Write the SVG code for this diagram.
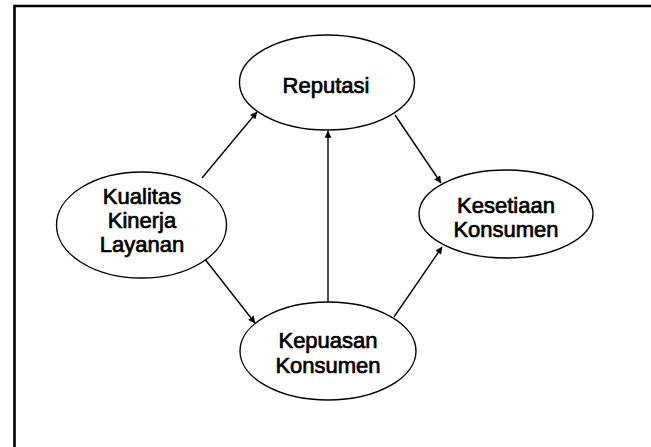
<svg xmlns="http://www.w3.org/2000/svg" width="651" height="447" viewBox="0 0 651 447">
  <style>
    .node ellipse { fill: #ffffff; stroke: #000000; stroke-width: 1.4; }
    .node text { font-family: "Liberation Sans", Arial, sans-serif; font-size: 22px; fill: #000000; text-anchor: middle; stroke: #000000; stroke-width: 0.7; }
    .edge { stroke: #000000; stroke-width: 1.4; fill: none; marker-end: url(#arrow); }
    .frame { stroke: #000000; stroke-width: 2.6; fill: none; }
  </style>
  <defs>
    <marker id="arrow" viewBox="0 0 10 10" refX="9.5" refY="5" markerWidth="8" markerHeight="7" markerUnits="userSpaceOnUse" orient="auto">
      <path d="M0,0 L10,5 L0,10 z" fill="#000000"/>
    </marker>
  </defs>
  <rect width="651" height="447" fill="#ffffff"/>

  <!-- open frame: top and left rules -->
  <path class="frame" d="M14.5,447 L14.5,6 L651,6"/>

  <!-- connectors -->
  <g id="connectors">
    <line class="edge" x1="202" y1="178" x2="257" y2="112"/>
    <line class="edge" x1="204" y1="258" x2="255" y2="323"/>
    <line class="edge" x1="328" y1="302" x2="328" y2="131"/>
    <line class="edge" x1="395" y1="115" x2="441" y2="183"/>
    <line class="edge" x1="394" y1="317" x2="442" y2="247"/>
  </g>

  <g id="reputasi" class="node">
    <ellipse cx="327" cy="82.5" rx="87.5" ry="47.5"/>
    <text x="326" y="93">Reputasi</text>
  </g>

  <g id="kualitas" class="node">
    <ellipse cx="141.5" cy="225" rx="85" ry="53"/>
    <text x="142" y="204">Kualitas</text>
    <text x="142" y="228">Kinerja</text>
    <text x="142" y="252">Layanan</text>
  </g>

  <g id="kesetiaan" class="node">
    <ellipse cx="506" cy="214" rx="87" ry="44"/>
    <text x="506" y="213">Kesetiaan</text>
    <text x="506" y="237">Konsumen</text>
  </g>

  <g id="kepuasan" class="node">
    <ellipse cx="328" cy="351" rx="88" ry="49"/>
    <text x="328" y="348">Kepuasan</text>
    <text x="328" y="373">Konsumen</text>
  </g>
</svg>
